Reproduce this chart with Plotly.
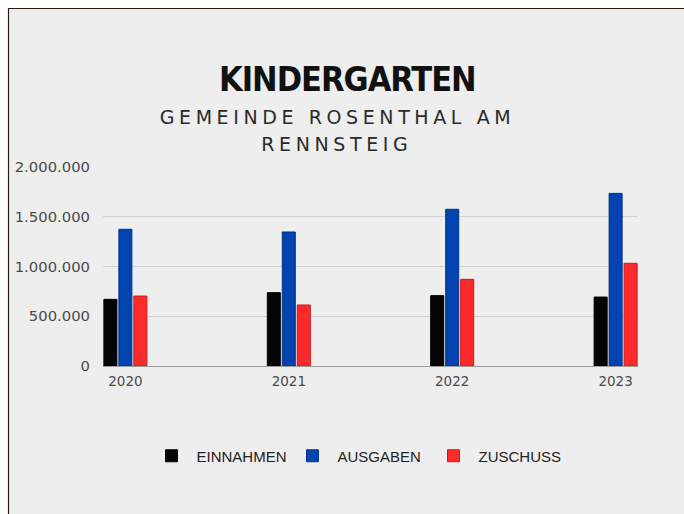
import plotly.graph_objects as go

years = ["2020", "2021", "2022", "2023"]
einnahmen = [670000, 737000, 707000, 693000]
ausgaben = [1374000, 1347000, 1575000, 1735000]
zuschuss = [703000, 613000, 871000, 1032000]

series = [
    ("EINNAHMEN", einnahmen, "#050505", "#000000"),
    ("AUSGABEN", ausgaben, "#0343b0", "#02348c"),
    ("ZUSCHUSS", zuschuss, "#fb2b2b", "#d51515"),
]

fig = go.Figure()
for name, vals, col, edge in series:
    fig.add_trace(go.Bar(
        x=years, y=vals, name=name,
        marker=dict(color=col, line=dict(color=edge, width=1)),
    ))

# plot area in px: x 103..638, y 167..366
L, R, T, B = 103, 638, 167, 366
W, H = 684, 514
def px(x):
    return (x - L) / (R - L)
def py(y):
    return (B - y) / (B - T)

fig.update_layout(
    width=W, height=H,
    margin=dict(l=L, r=W - R, t=T, b=H - B, pad=0),
    paper_bgcolor="#ffffff",
    plot_bgcolor="rgba(0,0,0,0)",
    barmode="group",
    bargap=0.725,
    bargroupgap=0.13,
    separators=",.",
    showlegend=True,
    legend=dict(
        orientation="h", x=px(146.5), xanchor="left", y=py(456), yanchor="middle",
        entrywidth=86, entrywidthmode="pixels", itemwidth=40,
        font=dict(family="Liberation Sans, Arial, sans-serif", size=15, color="#222222"),
        bgcolor="rgba(0,0,0,0)", traceorder="normal",
    ),
    xaxis=dict(
        type="category", range=[-0.137, 3.137],
        showgrid=False, showline=True, linecolor="#9a9a9a", linewidth=1,
        ticks="", ticklabelstandoff=3,
        tickfont=dict(family="DejaVu Sans, sans-serif", size=13.5, color="#4a4a4a"),
        fixedrange=True,
    ),
    yaxis=dict(
        range=[0, 2000000], tickvals=[0, 500000, 1000000, 1500000, 2000000],
        tickformat=",d", showgrid=True, gridcolor="#d2d2d2", gridwidth=1,
        zeroline=False, showline=False, ticks="", ticklabelstandoff=12,
        tickfont=dict(family="DejaVu Sans, sans-serif", size=14.8, color="#4a4a4a"),
        fixedrange=True,
    ),
    shapes=[dict(
        type="rect", xref="paper", yref="paper", layer="below",
        x0=px(8.5), x1=px(700), y0=py(530), y1=py(8.5),
        fillcolor="#eeeeee", line=dict(color="#2b1a12", width=1.2),
    )],
    annotations=[
        dict(text="<b>KINDERGARTEN</b>", xref="paper", yref="paper",
             x=px(347), y=py(79), xanchor="center", yanchor="middle", showarrow=False,
             font=dict(family="DejaVu Sans Condensed, sans-serif", size=34, color="#111111")),
        dict(text="GEMEINDE ROSENTHAL AM", xref="paper", yref="paper",
             x=px(337), y=py(117), xanchor="center", yanchor="middle", showarrow=False,
             font=dict(family="DejaVu Sans, sans-serif", size=19, color="#2a2a2a")),
        dict(text="RENNSTEIG", xref="paper", yref="paper",
             x=px(337), y=py(144), xanchor="center", yanchor="middle", showarrow=False,
             font=dict(family="DejaVu Sans, sans-serif", size=19, color="#2a2a2a")),
    ],
)

post = """
document.body.style.margin = '0';
document.documentElement.style.margin = '0';
var ts = document.querySelectorAll('.annotation-text');
if (ts.length >= 3) {
  ts[0].style.letterSpacing = '-1px';
  ts[1].style.letterSpacing = '4.6px';
  ts[2].style.letterSpacing = '4.6px';
}
"""
fig.write_html("out.html", post_script=post, config={"displayModeBar": False})
